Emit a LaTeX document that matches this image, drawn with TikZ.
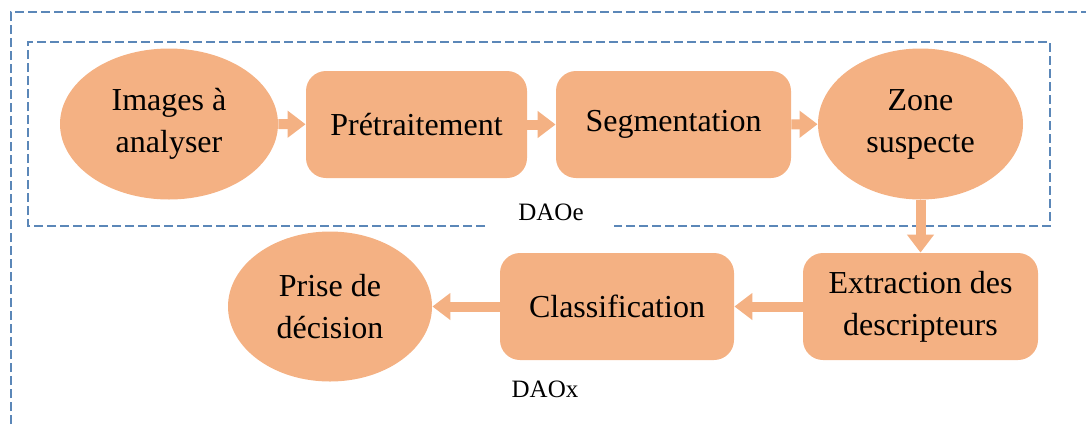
\documentclass[tikz,border=0pt]{standalone}
\usepackage{fontspec}
\setmainfont{Liberation Serif}
\usetikzlibrary{shapes.geometric,arrows.meta}
\definecolor{peach}{HTML}{F4B183}
\definecolor{dashblue}{HTML}{5B87B8}

\begin{document}
\begin{tikzpicture}[x=0.5pt,y=-0.5pt,
        stage/.style={fill=peach,rounded corners=10pt,minimum height=53.5pt,inner sep=0pt,align=center,font=\fontsize{16}{21}\selectfont},
        oval/.style={ellipse,fill=peach,inner sep=0pt,align=center,font=\fontsize{16}{21}\selectfont},
        flow/.style={peach,line width=5pt,-{Triangle[length=9pt,width=13pt]}},
        frame/.style={dashblue,line width=0.65pt,dash pattern=on 4.5pt off 2pt}]
        \useasboundingbox (0,0) rectangle (1086,424);

        \draw[frame] (11,424) -- (11,12) -- (1086,12); %outer
        \draw[frame] (485,226) -- (28,226) -- (28,42) -- (1050,42) -- (1050,226) -- (614,226); %DAOe

        \node[oval,minimum width=109pt,minimum height=75.5pt] (images) at (169,124) {Images à\\analyser}; %images
        \node[stage,minimum width=110.5pt] (pretrait) at (416.5,124.5) {Prétraitement}; %pretraitement
        \node[stage,minimum width=117.5pt] (segment) at (673.5,124.5) {Segmentation}; %segmentation
        \node[oval,minimum width=102.5pt,minimum height=75.5pt] (zone) at (920.5,124) {Zone\\suspecte}; %zone

        \node[stage,minimum width=117.5pt] (extract) at (920.5,306.5) {Extraction des\\descripteurs}; %extraction
        \node[stage,minimum width=117pt] (classif) at (617,306.5) {Classification}; %classification
        \node[oval,minimum width=102pt,minimum height=75pt] (prise) at (330,306.5) {Prise de\\décision}; %decision

        \draw[flow] (images) -- (pretrait);
        \draw[flow] (pretrait) -- (segment);
        \draw[flow] (segment) -- (zone);
        \draw[flow] (zone) -- (extract);
        \draw[flow] (extract) -- (classif);
        \draw[flow] (classif) -- (prise);

        \node[font=\fontsize{12.5}{15}\selectfont] (daoe) at (551,212) {DAOe};
        \node[font=\fontsize{12.5}{15}\selectfont] (daox) at (545,389) {DAOx};
    \end{tikzpicture}
\end{document}
